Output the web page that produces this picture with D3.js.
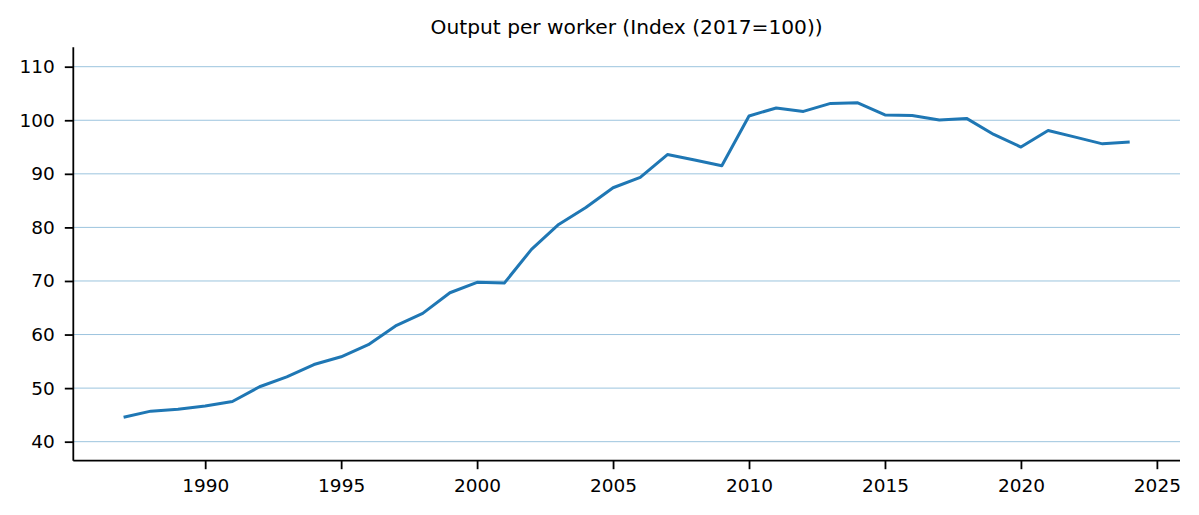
<!DOCTYPE html>
<html>
<head>
<meta charset="utf-8">
<script src="https://cdn.jsdelivr.net/npm/d3@7"></script>
<style>
  body { margin: 0; background: #fff; }
  svg { display: block; font-family: "DejaVu Sans", sans-serif; }
</style>
</head>
<body>
<svg id="chart" width="1199" height="515"></svg>
<script>
const title = "Output per worker (Index (2017=100))";
const years = [1987,1988,1989,1990,1991,1992,1993,1994,1995,1996,1997,1998,1999,2000,2001,2002,2003,2004,2005,2006,2007,2008,2009,2010,2011,2012,2013,2014,2015,2016,2017,2018,2019,2020,2021,2022,2023,2024];
const values = [44.55,45.7,46.05,46.65,47.5,50.25,52.1,54.4,55.85,58.1,61.6,63.95,67.8,69.75,69.6,75.9,80.55,83.7,87.4,89.35,93.6,92.6,91.5,100.8,102.3,101.65,103.15,103.25,101.0,100.9,100.05,100.35,97.35,95.0,98.1,96.85,95.6,95.95];
const xTicks = [1990,1995,2000,2005,2010,2015,2020,2025];
const yTicks = [40,50,60,70,80,90,100,110];

(function () {
const svg = d3.select("#chart");
const pL = 73.3, pR = 1180, pT = 47.3, pB = 460.7;

const x = d3.scaleLinear().domain([1985.15, 2025.85]).range([pL, pR]);
const y = d3.scaleLinear().domain([36.45, 113.62]).range([pB, pT]);

// gridlines
svg.append("g").selectAll("line").data(yTicks).join("line")
  .attr("x1", pL).attr("x2", pR)
  .attr("y1", d => y(d)).attr("y2", d => y(d))
  .attr("stroke", "#9cc4de").attr("stroke-width", 1);

// line
const line = d3.line().x((d, i) => x(years[i])).y(d => y(d));
svg.append("path").datum(values)
  .attr("d", line)
  .attr("fill", "none")
  .attr("stroke", "#1f77b4")
  .attr("stroke-width", 3)
  .attr("stroke-linejoin", "round")
  .attr("stroke-linecap", "butt");

// axes
const xAxis = d3.axisBottom(x).tickValues(xTicks).tickFormat(d3.format("d")).tickSizeInner(8.5).tickSizeOuter(0).tickPadding(9.5);
const yAxis = d3.axisLeft(y).tickValues(yTicks).tickFormat(d3.format("d")).tickSizeInner(8.5).tickSizeOuter(0).tickPadding(10);

const gx = svg.append("g").attr("transform", `translate(0,${pB})`).call(xAxis);
const gy = svg.append("g").attr("transform", `translate(${pL},0)`).call(yAxis);

[gx, gy].forEach(g => {
  g.select(".domain").attr("stroke", "#000").attr("stroke-width", 1.8);
  g.selectAll(".tick line").attr("stroke", "#000").attr("stroke-width", 1.8);
  g.selectAll(".tick text").attr("fill", "#000").style("font-size", "18.5px").style("font-family", "DejaVu Sans");
});
gx.select(".domain").attr("d", `M${pL},0H${pR}`);
gy.select(".domain").attr("d", `M0,${pT}V${pB}`);

svg.append("text")
  .attr("x", (pL + pR) / 2)
  .attr("y", 34)
  .attr("text-anchor", "middle")
  .style("font-size", "20.2px")
  .style("font-family", "DejaVu Sans")
  .attr("fill", "#000")
  .text(title);
})();
</script>
</body>
</html>
